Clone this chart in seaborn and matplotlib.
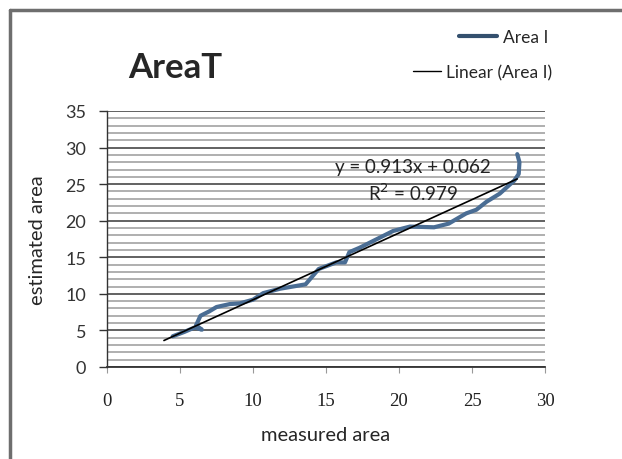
import matplotlib
matplotlib.use("Agg")
import matplotlib.pyplot as plt
import numpy as np
import pandas as pd
import seaborn as sns

# blue series
measured = [4.5, 5.3, 6.0, 6.5, 6.1, 6.4, 7.0, 7.5, 8.4, 9.1, 10.0, 10.7, 11.85,
            13.6, 14.5, 15.7, 16.3, 16.6, 17.3, 18.5, 19.6, 20.75, 22.4, 23.4,
            24.6, 25.3, 26.0, 26.9, 27.4, 27.9, 28.2, 28.25, 28.1]
estimated = [4.2, 4.8, 5.4, 5.1, 5.7, 7.0, 7.6, 8.2, 8.6, 8.7, 9.2, 10.1, 10.7,
             11.3, 13.4, 14.3, 14.3, 15.7, 16.3, 17.5, 18.6, 19.2, 19.1, 19.6,
             21.0, 21.5, 22.6, 23.7, 24.6, 25.5, 26.4, 28.0, 29.1]

# excel linear trendline
slope = 0.913
intercept = 0.062
r2 = 0.979
trend_x = [3.9, 28.1]

x_ticks = [0, 5, 10, 15, 20, 25, 30]
y_ticks = [0, 5, 10, 15, 20, 25, 30, 35]

df = pd.DataFrame({'measured area': measured, 'estimated area': estimated})
trend = pd.DataFrame({'x': trend_x})
trend['y'] = slope * trend['x'] + intercept

sns.set_theme(style='white')
plt.rcParams['font.family'] = ['Lato', 'DejaVu Sans']

fig = plt.figure(figsize=(6.22, 4.6), dpi=100)
ax = fig.add_axes([107 / 622, 1 - 368 / 460, 438 / 622, 256 / 460])

# horizontal gridlines every 1 unit, a bit darker every 5
for v in range(0, 36):
    if v % 5 == 0:
        ax.axhline(v, color='#555555', lw=1.3, zorder=0)
    else:
        ax.axhline(v, color='#9a9a9a', lw=1.1, zorder=0)

sns.lineplot(data=df, x='measured area', y='estimated area', sort=False,
             color='#4a6d94', lw=3, ax=ax, zorder=3)
sns.lineplot(data=trend, x='x', y='y', color='black', lw=1.2, ax=ax, zorder=4)

ax.set_xlim(0, 30)
ax.set_ylim(0, 35)
ax.set_xticks(x_ticks)
ax.set_yticks(y_ticks)
ax.set_xticklabels([str(t) for t in x_ticks], family='Liberation Serif',
                   fontsize=13.5, color='#222222')
ax.set_yticklabels([str(t) for t in y_ticks], fontsize=13, color='#333333')
ax.tick_params(axis='y', left=True, length=6, width=1, color='#333333', pad=9)
ax.tick_params(axis='x', bottom=True, length=4, width=0.8, color='#999999', pad=14)

for s in ['top', 'right']:
    ax.spines[s].set_visible(False)
ax.spines['left'].set_color('#333333')
ax.spines['bottom'].set_color('#333333')
ax.spines['left'].set_linewidth(1)
ax.spines['bottom'].set_linewidth(1.3)

ax.set_xlabel('measured area', fontsize=14.5, labelpad=12)
ax.set_ylabel('estimated area', fontsize=14.5, labelpad=14)

ax.text(20.96, 27.4, f'y = {slope}x + {intercept}', fontsize=13.5,
        ha='center', va='center', color='#222222', zorder=5)
ax.text(20.96, 23.9, f'R$^2$ = {r2}', fontsize=13.5, ha='center',
        va='center', color='#222222', zorder=5)

fig.text(175 / 622, 1 - 68 / 460, 'AreaT', fontsize=25, fontweight='bold',
         ha='center', va='center')

# two legend rows, each right aligned like excel draws them
h_area = plt.Line2D([], [], color='#34506e', lw=3)
h_lin = plt.Line2D([], [], color='black', lw=1)
leg1 = fig.legend([h_area], ['Area I'], loc='center right',
                  bbox_to_anchor=(548 / 622, 1 - 38 / 460), frameon=False,
                  fontsize=12.5, handlelength=2.2, handletextpad=0.3,
                  borderpad=0, borderaxespad=0)
leg2 = fig.legend([h_lin], ['Linear (Area I)'], loc='center right',
                  bbox_to_anchor=(552 / 622, 1 - 73 / 460), frameon=False,
                  fontsize=12.5, handlelength=1.6, handletextpad=0.3,
                  borderpad=0, borderaxespad=0)

# outer chart border (top and left)
fig.add_artist(plt.Line2D([10 / 622, 1], [1 - 11 / 460, 1 - 11 / 460],
                          color='#6e6e6e', lw=2.5, transform=fig.transFigure))
fig.add_artist(plt.Line2D([10 / 622, 10 / 622], [0, 1 - 11 / 460],
                          color='#6e6e6e', lw=2.5, transform=fig.transFigure))

fig.savefig('out.png', dpi=100)
